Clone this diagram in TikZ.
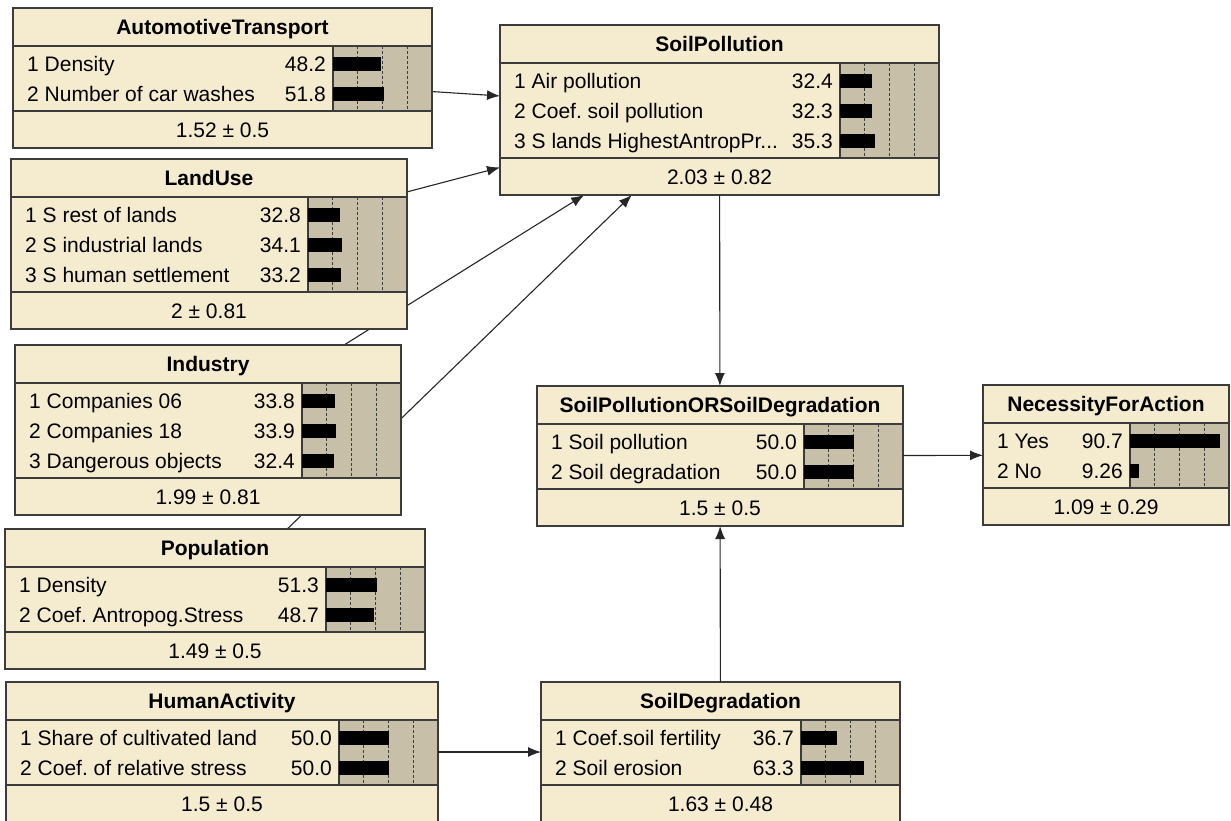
\documentclass[tikz,border=0pt]{standalone}
\usepackage{fontspec}
\setmainfont{Liberation Sans}
\usetikzlibrary{arrows.meta}

\pgfdeclarelayer{background}
\pgfsetlayers{background,main}

\definecolor{nodebeige}{RGB}{245,236,208}
\definecolor{bargray}{RGB}{199,191,168}
\definecolor{framegray}{RGB}{60,60,60}

\newcommand{\cutdots}{...}
\frenchspacing

\tikzset{
  bnbox/.style={draw=framegray, fill=nodebeige, line width=1.2pt, inner sep=0pt, outer sep=0pt},
  bnline/.style={draw=framegray, line width=1.2pt},
  gridline/.style={draw=framegray, line width=0.8pt, dash pattern=on 3pt off 2pt},
  bntitle/.style={font=\fontsize{21}{25}\selectfont\bfseries, inner sep=0pt},
  bntext/.style={font=\fontsize{21}{25}\selectfont, inner sep=0pt},
  link/.style={->, draw=black!85, line width=1.1pt}
}

% #1 name, #2 left, #3 top, #4 right, #5 number of states,
% #6 title, #7 states (label/percent), #8 mean
\newcommand{\bnnode}[8]{%
  \node[bnbox, anchor=north west, minimum width={(#4-#2)*1pt},
        minimum height={(80+30*#5)*1pt}] (#1) at (#2,#3) {};
  \fill[bargray] (#4-99,#3+38) rectangle (#4,#3+43+30*#5);
  \foreach \q in {25,50,75}
    \draw[gridline] (#4-99+0.99*\q,#3+38) -- (#4-99+0.99*\q,#3+43+30*#5);
  \draw[bnline] (#2,#3+38) -- (#4,#3+38);
  \draw[bnline] (#2,#3+43+30*#5) -- (#4,#3+43+30*#5);
  \draw[bnline] (#4-99,#3+38) -- (#4-99,#3+43+30*#5);
  \draw[bnline] (#1.north west) rectangle (#1.south east);
  \node[bntitle, anchor=base] (#1-t) at ({(#2+#4)/2},#3+26.5) {#6};
  \foreach \lab/\val [count=\i] in {#7} {
    \fill (#4-99,#3+18.5+30*\i) rectangle (#4-99+0.99*\val,#3+32.5+30*\i);
    \node[bntext, anchor=base west] (#1-s\i) at (#2+14,#3+33+30*\i) {\lab};
    \node[bntext, anchor=base east] (#1-v\i) at (#4-106,#3+33+30*\i) {\val};
  }
  \node[bntext, anchor=base] (#1-m) at ({(#2+#4)/2},#3+69+30*#5) {#8};
}

\begin{document}
\begin{tikzpicture}[x=1pt, y=-1pt, >={Latex[length=13pt,width=10pt]}]
  \useasboundingbox (0,0) rectangle (1231,820);

  \bnnode{at}{13}{8}{432}{2}{AutomotiveTransport}
    {1 Density/48.2, 2 Number of car washes/51.8}{1.52 ± 0.5}
  \bnnode{sp}{500}{25}{939}{3}{SoilPollution}
    {1 Air pollution/32.4, 2 Coef. soil pollution/32.3, 3 S lands HighestAntropPr\cutdots/35.3}{2.03 ± 0.82}
  \bnnode{lu}{11}{159}{407}{3}{LandUse}
    {1 S rest of lands/32.8, 2 S industrial lands/34.1, 3 S human settlement/33.2}{2 ± 0.81}
  \bnnode{ind}{15}{345}{401}{3}{Industry}
    {1 Companies 06/33.8, 2 Companies 18/33.9, 3 Dangerous objects/32.4}{1.99 ± 0.81}
  \bnnode{pop}{5}{529}{425}{2}{Population}
    {1 Density/51.3, 2 Coef. Antropog.Stress/48.7}{1.49 ± 0.5}
  \bnnode{ha}{6}{682}{438}{2}{HumanActivity}
    {1 Share of cultivated land/50.0, 2 Coef. of relative stress/50.0}{1.5 ± 0.5}
  \bnnode{spor}{537}{386}{903}{2}{SoilPollutionORSoilDegradation}
    {1 Soil pollution/50.0, 2 Soil degradation/50.0}{1.5 ± 0.5}
  \bnnode{nfa}{983}{385}{1229}{2}{NecessityForAction}
    {1 Yes/90.7, 2 No/9.26}{1.09 ± 0.29}
  \bnnode{sd}{541}{682}{900}{2}{SoilDegradation}
    {1 Coef.soil fertility/36.7, 2 Soil erosion/63.3}{1.63 ± 0.48}

  % arcs run from node centres, hidden behind the boxes
  \begin{pgfonlayer}{background}
    \draw[link] (at.center) -- (sp);
    \draw[link] (lu.center) -- (sp);
    \draw[link] (ind.center) -- (sp);
    \draw[link] (pop.center) -- (sp);
  \end{pgfonlayer}
  \draw[link] (sp) -- (spor);
  \draw[link] (sd) -- (spor);
  \draw[link] (ha) -- (sd);
  \draw[link] (spor) -- (nfa);
\end{tikzpicture}
\end{document}
